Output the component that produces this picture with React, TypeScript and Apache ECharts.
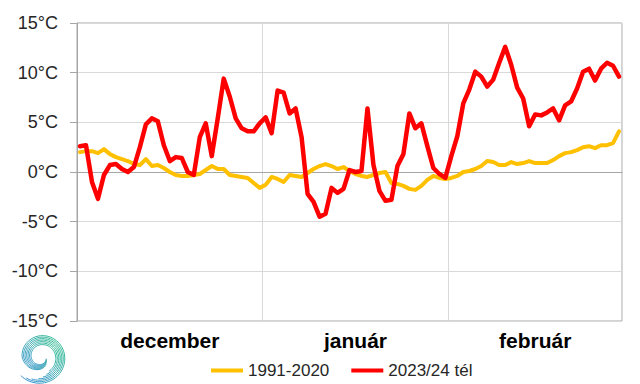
import React, { useEffect, useRef } from "react";
import * as echarts from "echarts";

const monthNames = ["december", "január", "február"];
const monthDays = [31, 31, 29];
const monthCodes = ["12", "01", "02"];

const yTickMin = -15;
const yTickMax = 15;
const yTickStep = 5;

const seriesNames = ["1991-2020", "2023/24 tél"];

const normal1991_2020 = [
  2.0, 2.1, 2.1, 1.9, 2.3, 1.8, 1.5, 1.3, 1.1, 0.8,
  0.7, 1.3, 0.6, 0.7, 0.4, 0.0, -0.3, -0.4, -0.4, -0.3,
  -0.2, 0.2, 0.6, 0.3, 0.3, -0.3, -0.4, -0.5, -0.6, -1.1,
  -1.6,
  -1.3, -0.5, -0.7, -1.0, -0.3, -0.4, -0.5, -0.1, 0.3, 0.6,
  0.8, 0.6, 0.3, 0.5, 0.1, -0.2, -0.4, -0.5, -0.3, -0.1,
  0.0, -1.1, -1.2, -1.4, -1.7, -1.8, -1.4, -0.8, -0.4, -0.6,
  -0.7,
  -0.6, -0.4, 0.0, 0.1, 0.3, 0.6, 1.1, 1.0, 0.7, 0.7,
  1.0, 0.8, 0.9, 1.1, 0.9, 0.9, 0.9, 1.2, 1.6, 1.9,
  2.0, 2.2, 2.5, 2.6, 2.4, 2.7, 2.7, 2.9, 4.1,
];

const winter2023_24 = [
  2.6, 2.7, -1.0, -2.7, -0.3, 0.7, 0.8, 0.3, 0.0, 0.5,
  2.5, 4.8, 5.4, 5.1, 2.7, 1.1, 1.5, 1.4, 0.0, -0.3,
  3.5, 4.9, 1.6, 5.4, 9.4, 7.6, 5.4, 4.4, 4.1, 4.1,
  4.9,
  5.5, 3.9, 8.2, 8.0, 5.9, 6.4, 3.5, -2.2, -3.0, -4.5,
  -4.2, -1.6, -2.1, -1.7, 0.2, 0.0, 0.1, 6.4, 0.7, -1.9,
  -2.9, -2.8, 0.6, 1.8, 5.9, 4.4, 4.9, 2.6, 0.4, -0.2,
  -0.6,
  1.6, 3.6, 6.9, 8.3, 10.1, 9.6, 8.6, 9.3, 11.0, 12.6,
  10.8, 8.5, 7.4, 4.6, 5.8, 5.7, 6.0, 6.4, 5.2, 6.7,
  7.1, 8.4, 10.1, 10.4, 9.2, 10.4, 11.0, 10.7, 9.6,
];

// category labels (one per day)
const categories: string[] = [];
const monthStarts: number[] = [];
const monthLabelIndex: Record<number, string> = {};
{
  let idx = 0;
  monthDays.forEach((n, m) => {
    monthStarts.push(idx);
    monthLabelIndex[idx + Math.floor(n / 2)] = monthNames[m];
    for (let d = 1; d <= n; d++) {
      categories.push(monthCodes[m] + "-" + String(d).padStart(2, "0"));
    }
    idx += n;
  });
}

// logo geometry (decorative)
function logoStripes() {
  const cx = 41;
  const cy = 357;
  const els: any[] = [];
  const stripes = 7;
  for (let j = 0; j < stripes; j++) {
    const t0 = 0.3 + j * 0.13;
    const t1 = Math.PI * 2 + 1.1 + j * 0.22;
    const pts: number[][] = [];
    for (let t = t0; t <= t1; t += 0.08) {
      const spacing = 1.5 * Math.min(1, t / Math.PI);
      const r = 5 + 1.55 * t + j * spacing;
      pts.push([cx + r * Math.cos(t), cy + r * Math.sin(t)]);
    }
    els.push({
      type: "polyline",
      shape: { points: pts },
      silent: true,
      style: {
        fill: null,
        lineWidth: 1.0,
        stroke: new echarts.graphic.LinearGradient(0, 1, 1, 0, [
          { offset: 0, color: "#3a8fd8" },
          { offset: 1, color: "#2fc088" },
        ]),
      },
    });
  }
  return els;
}

export default function App() {
  const ref = useRef<HTMLDivElement>(null);
  useEffect(() => {
    if (!ref.current) return;
    const chart = echarts.init(ref.current, undefined, { renderer: "svg" });
    const font = "'Liberation Sans', Arial, sans-serif";
    chart.setOption({
      animation: false,
      backgroundColor: "#ffffff",
      grid: {
        left: 77,
        right: 18,
        top: 23,
        bottom: 63,
        show: true,
        borderColor: "#a6a6a6",
        borderWidth: 1,
      },
      legend: {
        left: 211,
        top: 361,
        padding: 0,
        icon: "rect",
        itemWidth: 32,
        itemHeight: 4,
        itemGap: 22,
        textStyle: {
          fontFamily: font,
          fontSize: 17,
          lineHeight: 19,
          color: "#262626",
        },
        data: seriesNames,
      },
      xAxis: {
        type: "category",
        data: categories,
        boundaryGap: true,
        axisLine: { show: true, lineStyle: { color: "#a6a6a6" } },
        axisTick: { show: false },
        axisLabel: {
          interval: 0,
          margin: 9,
          fontFamily: font,
          fontSize: 21,
          fontWeight: "bold",
          color: "#000000",
          formatter: (_v: string, i: number) => monthLabelIndex[i] || "",
        },
        splitLine: {
          show: true,
          interval: (i: number) => monthStarts.indexOf(i) > 0,
          lineStyle: { color: "#d9d9d9", width: 1 },
        },
      },
      yAxis: {
        type: "value",
        min: yTickMin,
        max: yTickMax,
        interval: yTickStep,
        axisLine: { show: true, lineStyle: { color: "#a6a6a6" } },
        axisTick: { show: true, length: 7, lineStyle: { color: "#a6a6a6" } },
        axisLabel: {
          margin: 19,
          fontFamily: font,
          fontSize: 18,
          color: "#262626",
          formatter: (v: number) => v + "°C",
        },
        splitLine: { show: true, lineStyle: { color: "#d9d9d9", width: 1 } },
      },
      series: [
        {
          name: seriesNames[0],
          type: "line",
          data: normal1991_2020,
          symbol: "none",
          color: "#ffc000",
          lineStyle: { color: "#ffc000", width: 4, join: "round", cap: "round" },
        },
        {
          name: seriesNames[1],
          type: "line",
          data: winter2023_24,
          symbol: "none",
          color: "#ff0000",
          lineStyle: { color: "#ff0000", width: 4.5, join: "round", cap: "round" },
        },
      ],
      graphic: logoStripes(),
    });
    return () => chart.dispose();
  }, []);
  return (
    <div
      ref={ref}
      style={{ position: "fixed", left: 0, top: 0, width: 640, height: 384 }}
    />
  );
}
